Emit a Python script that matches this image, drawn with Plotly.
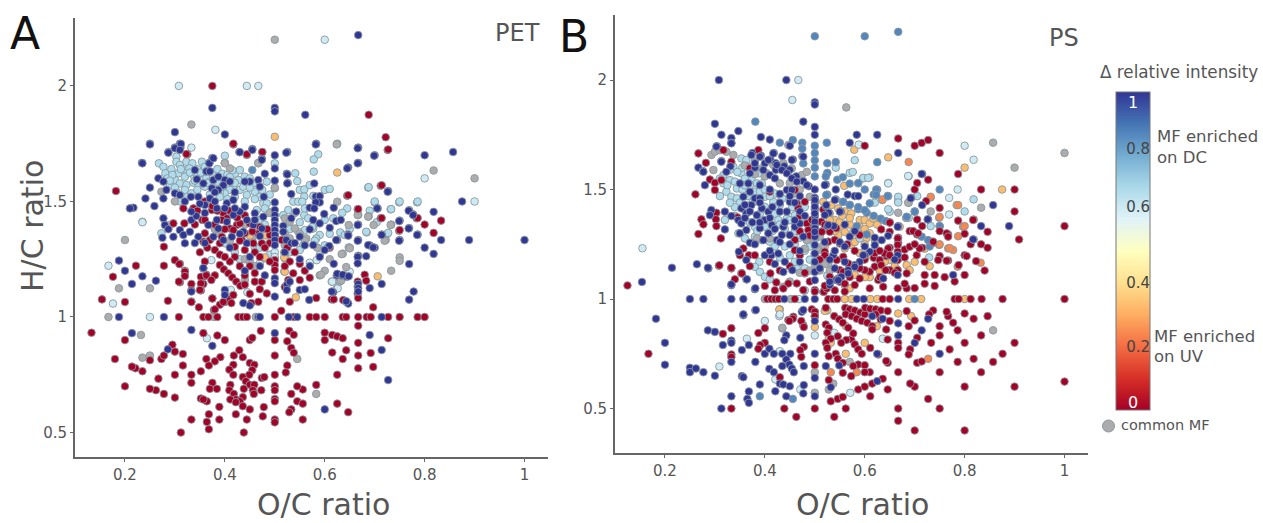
import plotly.graph_objects as go

# ---------- Panel A (PET): (O/C, H/C) ----------
A_NAVY = [(.667,2.22),(.375,1.905),(.5,1.905),(.5,1.89),(.561,1.875),(.30,1.80),(.40,1.79),(.25,1.75),(.30,1.733),(.31,1.75),(.311,1.733),(.287,1.714),(.234,1.667),(.375,1.688),(.369,1.667),(.429,1.714),(.455,1.727),(.474,1.685),(.5,1.70),(.5,1.643),(.5,1.59),(.525,1.714),(.524,1.62),(.526,1.58),(.583,1.75),(.667,1.733),(.667,1.667),(.647,1.647),(.70,1.70),(.80,1.70),(.857,1.714),(.875,1.5),(.889,1.333),(1,1.333),(.833,1.333),(.8,1.30),(.818,1.273),(.818,1.455),(.769,1.462),(.777,1.444),(.75,1.417),(.769,1.385),(.786,1.357),(.75,1.333),(.727,1.545),(.706,1.47),(.667,1.4),(.714,1.357),(.667,1.333),(.69,1.31),(.70,1.30),(.667,1.265),(.683,1.263),(.647,1.357),(.625,1.333),
(.214,.93),(.333,.944),(.375,.875),(.286,.86),(.5,.93),(.69,.922),(.714,.857),(.727,.727),(.6,.6),
(.188,1),(.278,1),(.467,1),(.47,1),(.528,1),(.545,1),(.714,1),
(.357,1.21),(.4,1.117),(.4,1.095),(.437,1.06),(.45,1.05),(.5,1.167),(.5,1.146),(.5,1.088),(.524,1.138),(.53,1.153),(.524,1.117),(.55,1.117),(.56,1.12),(.569,1.074),(.617,1.107),(.624,1.18),(.634,1.18),(.644,1.174),(.666,1.26),(.666,1.232),
(.25,1.747),(.3,1.73),(.312,1.749),(.31,1.723),(.287,1.711),(.235,1.665),(.369,1.665),(.377,1.687),(.43,1.713),(.455,1.723),(.474,1.68),(.267,1.6),(.277,1.586),(.25,1.56),(.241,1.513),(.259,1.48),(.217,1.473),(.21,1.47),(.283,1.55),(.277,1.513),(.3,1.535),(.31,1.528),(.32,1.5),(.332,1.52),(.34,1.636),(.363,1.63),(.344,1.596),(.357,1.578),(.377,1.593),(.387,1.607),(.4,1.593),(.41,1.586),(.397,1.57),(.387,1.55),(.374,1.557),(.347,1.52),(.36,1.485),(.37,1.513),(.384,1.47),(.404,1.492),(.417,1.506),(.44,1.477),(.45,1.586),(.467,1.593),(.44,1.586),(.47,1.564),(.478,1.52),(.5,1.496),(.5,1.463),(.5,1.441),(.5,1.42),(.5,1.398),(.5,1.376),(.5,1.355),(.5,1.333),(.5,1.311),
(.277,1.427),(.28,1.398),(.287,1.38),(.31,1.376),(.317,1.355),(.32,1.319),(.275,1.343),(.297,1.347),(.333,1.42),(.343,1.437),(.33,1.369),(.347,1.347),(.367,1.398),(.377,1.347),(.387,1.383),(.404,1.412),(.417,1.441),(.43,1.456),(.444,1.42),(.46,1.449),(.477,1.434),(.474,1.383),(.457,1.398),(.437,1.369),(.414,1.347),(.397,1.333),(.444,1.319),(.333,1.456),(.384,1.42),
(.582,1.747),(.666,1.73),(.523,1.711),(.699,1.698),(.666,1.665),(.645,1.643),(.525,1.617),(.525,1.578),(.579,1.578),(.533,1.532),(.726,1.542),(.582,1.521),(.59,1.523),(.59,1.496),(.582,1.496),(.57,1.473),(.579,1.47),(.599,1.446),(.618,1.473),(.705,1.47),(.623,1.415),(.632,1.42),(.577,1.42),(.59,1.405),(.61,1.386),(.543,1.456),(.533,1.427),(.57,1.379),(.55,1.348),(.749,1.415),(.768,1.46),(.777,1.441),(.768,1.383),(.714,1.355),(.749,1.33),(.785,1.355),(.666,1.398),(.623,1.333),(.647,1.352),(.666,1.33),(.687,1.311),(.697,1.301),(.609,1.307),(.577,1.311),(.517,1.394),(.517,1.369),(.523,1.333),(.533,1.319),
(.769,1.229),(.778,1.11),(.769,1.075),(.714,1.143),(.69,1.125),(.667,1.143),(.667,1.125),(.667,1.11),(.647,1.058),(.643,1.068),(.614,1.11),(.618,1.23),(.625,1.187),(.636,1.183),(.648,1.176),(.188,1.244),(.2,1.2),(.214,1.143),(.235,1.176),(.262,1.157),(.357,1.212),(.333,1.11),
(.36,1.45),(.38,1.5),(.4,1.47),(.42,1.47),(.46,1.42),(.47,1.35),(.43,1.36),(.41,1.3),(.45,1.26),(.47,1.22),(.48,1.18),(.44,1.2),(.36,1.32),(.34,1.32),(.52,1.28),(.55,1.25),(.57,1.22),(.59,1.26),(.6,1.29),(.54,1.32),(.56,1.31),(.42,1.54),(.35,1.49),(.37,1.63),(.38,1.54),(.48,1.62)]
A_RED = [(.133,.932),(.2,.9),(.154,1.076),(.176,1.174),(.222,1.222),(.2,1.065),(.286,1.07),(.278,1.222),(.31,1.23),(.32,1.2),(.32,1.18),(.31,1.15),(.333,1.143),(.333,1.115),(.333,1.067),(.348,1.042),(.352,1.115),(.357,1.174),(.352,1.174),(.363,1.183),(.357,1.143),(.375,1.08),(.378,1.03),(.39,1.053),(.4,1.065),(.408,1.078),
(.308,1),(.357,1),(.367,1),(.385,1),(.427,1),(.436,1),(.444,1),(.5,1),(.538,1),(.57,1),(.583,1),(.6,1),(.636,1),(.643,1),(.667,1),(.684,1),(.692,1),(.727,1),(.75,1),(.786,1),(.8,1),
(.513,1.027),(.472,.94),(.45,.9),(.455,.91),(.4,.9),(.385,.92),(.357,.93),(.5,.9),(.525,.895),(.529,.94),(.538,.923),(.533,.866),(.538,.845),(.6,.932),(.6,.9),(.615,.922),(.625,.916),(.636,.908),(.667,.962),(.667,.888),(.727,.908),(.692,.844),(.643,.856),(.615,.846),(.636,.818),(.667,.833),(.667,.778),(.697,.784),(.625,.75),(.583,.706),(.556,.686),(.545,.7),(.533,.667),(.545,.635),(.556,.625),(.625,.625),(.647,.588),(.556,.556),(.533,.6),(.529,.588),(.5,.556),(.5,.544),(.5,.645),(.5,.635),(.5,.7),(.5,.683),(.5,.75),(.5,.833),(.525,.79),(.522,.76),
(.429,.856),(.418,.833),(.436,.826),(.391,.826),(.38,.808),(.363,.818),(.368,.79),(.417,.793),(.409,.772),(.417,.75),(.45,.801),(.459,.793),(.455,.77),(.449,.75),(.436,.74),(.442,.722),(.45,.707),(.459,.707),(.456,.683),(.458,.667),(.473,.683),(.474,.736),(.479,.74),(.438,.689),(.411,.706),(.409,.683),(.418,.667),(.422,.643),(.411,.643),(.436,.653),(.43,.635),(.422,.631),(.436,.614),(.45,.6),(.478,.61),(.422,.579),(.476,.57),(.444,.556),(.438,.5),(.312,.5),(.333,.556),(.364,.546),(.368,.514),(.389,.556),(.368,.579),(.389,.611),(.364,.635),(.352,.647),(.357,.643),(.375,.715),(.37,.689),(.384,.689),(.333,.715),(.333,.75),(.352,.765),(.3,.75),(.267,.733),(.3,.651),(.278,.667),(.262,.683),(.25,.689),(.2,.7),(.235,.765),(.221,.778),(.214,.785),(.18,.818),(.25,.813),(.273,.818),(.278,.833),(.295,.88),(.3,.85),(.316,.84),(.316,.79),
(.3,1.246),(.309,1.229),(.32,1.196),(.32,1.177),(.308,1.153),(.352,1.145),(.35,1.117),(.363,1.18),(.38,1.18),(.373,1.16),(.375,1.08),(.333,1.065),(.38,1.033),(.397,1.065),(.417,1.095),(.413,1.06),(.39,1.225),(.398,1.206),(.407,1.189),(.415,1.171),(.423,1.153),(.431,1.135),(.46,1.153),(.474,1.153),(.484,1.102),(.467,1.066),(.453,1.06),(.5,1.246),(.5,1.225),(.5,1.203),(.527,1.16),(.537,1.189),(.53,1.066),(.61,1.3),(.637,1.073),(.644,1.066),(.614,1.076),(.666,1.153),(.666,1.131),(.666,1.102),
(.325,1.704),(.417,1.747),(.444,1.701),(.475,1.713),(.317,1.47),(.36,1.5),(.337,1.47),(.297,1.405),(.319,1.405),(.278,1.304),(.355,1.42),(.374,1.463),(.397,1.449),(.404,1.427),(.394,1.42),(.41,1.383),(.424,1.398),(.417,1.376),(.434,1.333),(.43,1.405),(.45,1.405),(.467,1.362),(.49,1.355),(.474,1.319),(.457,1.319),(.36,1.362),(.37,1.333),(.394,1.347),(.42,1.304),(.39,1.319),(.357,1.326),(.44,1.362),
(.726,1.723),(.645,1.525),(.712,1.568),(.666,1.466),(.712,1.427),(.749,1.373),(.784,1.427),(.607,1.301),(.5,1.355),(.514,1.333),
(.667,1.082),(.68,1.183),(.683,1.157),(.697,1.042),(.618,1.076),(.583,1.082),
(.375,2),(.688,1.875),(.722,1.778),(.727,1.725),(.417,1.75),(.444,1.704),(.475,1.714),(.323,1.705),(.182,1.545),(.647,1.527),(.667,1.467),(.714,1.57),(.714,1.428),(.786,1.428),(.8,1.4),(.833,1.417),(.818,1.364),(.75,1.376),
(.375,1.48),(.385,1.46),(.41,1.46),(.425,1.43),(.44,1.44),(.455,1.37),(.47,1.39),(.485,1.38),(.49,1.32),(.48,1.3),(.46,1.28),(.44,1.29),(.42,1.26),(.41,1.24),(.43,1.22),(.45,1.22),(.47,1.26),(.49,1.24),(.38,1.29),(.365,1.3),(.35,1.28),(.39,1.27),(.4,1.26),(.36,1.24),(.525,1.3),(.54,1.28),(.53,1.24),(.55,1.23),(.52,1.22),(.56,1.2),(.57,1.17),(.4,1.38),(.38,1.4),(.36,1.42),(.34,1.4),(.345,1.46),(.44,1.18),(.46,1.19),(.47,1.12),(.44,1.14),(.45,1.1),(.52,1.13),(.55,1.16),(.43,1.33)]
A_LIGHT = [(.268,1.665),(.277,1.65),(.281,1.622),(.303,1.694),(.303,1.672),(.31,1.658),(.323,1.672),(.335,1.665),(.317,1.636),(.329,1.643),(.307,1.622),(.32,1.607),(.337,1.614),(.354,1.672),(.355,1.593),(.363,1.6),(.3,1.593),(.31,1.578),(.323,1.571),(.337,1.581),(.347,1.578),(.36,1.564),(.29,1.571),(.303,1.542),(.32,1.55),(.333,1.535),(.37,1.586),(.4,1.698),(.42,1.62),(.43,1.636),(.427,1.593),(.44,1.607),(.457,1.578),(.417,1.564),(.43,1.55),(.444,1.528),(.46,1.542),(.47,1.52),(.484,1.586),(.437,1.564),(.41,1.55),(.477,1.492),(.487,1.456),(.464,1.463),(.484,1.492),(.4,1.535),(.39,1.542),(.377,1.564),(.273,1.362),(.29,1.398),(.4,1.319),
(.587,1.704),(.578,1.682),(.5,1.665),(.578,1.629),(.545,1.588),(.541,1.622),(.55,1.55),(.559,1.552),(.559,1.521),(.537,1.499),(.547,1.499),(.555,1.499),(.57,1.571),(.6,1.55),(.61,1.554),(.577,1.524),(.687,1.56),(.7,1.496),(.749,1.496),(.785,1.496),(.732,1.466),(.69,1.46),(.645,1.47),(.635,1.451),(.704,1.41),(.684,1.366),(.631,1.366),(.64,1.355),(.725,1.359),(.617,1.427),(.527,1.463),(.517,1.441),(.559,1.441),(.567,1.427),(.56,1.376),(.577,1.383),(.59,1.355),(.583,1.34),(.547,1.369),(.529,1.326),(.557,1.311),
(.688,1.562),(.75,1.5),(.786,1.5),(.7,1.5),(.733,1.467),(.683,1.369),(.727,1.364),
(.285,1.6),(.293,1.64),(.295,1.615),(.29,1.59),(.312,1.64),(.33,1.625),(.345,1.64),(.345,1.61),(.34,1.59),(.352,1.625),(.36,1.65),(.365,1.58),(.375,1.625),(.385,1.64),(.395,1.62),(.405,1.615),(.415,1.635),(.385,1.585),(.395,1.565),(.41,1.605),(.42,1.58),(.45,1.56),(.45,1.6),(.46,1.51),(.475,1.55),(.49,1.53),(.48,1.47),(.44,1.5),(.42,1.52),(.405,1.51),(.39,1.52),(.37,1.53),(.345,1.55),(.3,1.56),(.325,1.52),(.31,1.5),(.47,1.42),(.48,1.4),(.46,1.3),(.42,1.28),(.43,1.25),(.54,1.45),(.55,1.41),(.53,1.38),(.56,1.47),(.575,1.39),(.6,1.42),(.61,1.36),(.58,1.33),(.55,1.29),(.53,1.28),(.6,1.31),(.65,1.38),(.47,1.3),(.49,1.27)]
A_PALE = [(.308,2),(.444,2),(.467,2),(.6,2.2),(.381,1.81),(.333,1.733),(.235,1.412),(.235,1.41),(.9,1.5),(.8,1.6),(.25,1),(.364,.908),(.373,1.246),(.412,1.117),(.445,1.107),(.47,1.232),(.5,1.28),(.5,1.26),(.624,1.124),(.614,1.153),(.57,1.235),(.584,1.246),(.59,1.268),(.65,1.196),(.615,1.153),(.626,1.124),(.167,1.222),(.176,1.058)]
A_GREY = [(.5,2.2),(.333,1.833),(.625,1.75),(.4,1.667),(.467,1.667),(.818,1.634),(.9,1.6),(.667,1.442),(.688,1.436),(.733,1.4),(.722,1.333),(.75,1.258),(.65,1.3),(.636,1.274),(.2,1.333),(.273,1.542),(.3,1.5),(.41,1.643),(.467,1.665),(.4,1.665),(.5,1.557),
(.624,1.747),(.5,1.56),(.648,1.398),(.625,1.499),(.666,1.441),(.687,1.434),(.698,1.398),(.732,1.398),(.72,1.33),(.648,1.301),(.52,1.427),(.53,1.412),(.54,1.383),(.52,1.362),(.563,1.34),
(.44,1.25),(.45,1.24),(.6,1.2),(.634,1.272),(.63,1.153),(.65,1.297),(.59,1.18),(.733,1.2),(.75,1.243),(.633,1.158),(.593,1.183),(.643,1.216),(.188,1.124),(.25,1.124),
(.167,1),(.462,1),(.378,1),(.232,.922),(.235,.824),(.25,.833),(.545,.818),(.583,.667),
(.41,1.33),(.39,1.36),(.455,1.34),(.44,1.4),(.52,1.31),(.53,1.34),(.55,1.36),(.56,1.33),(.49,1.45),(.38,1.38),(.46,1.22),(.44,1.16),(.585,1.3),(.61,1.25)]
A_ORANGE = [(.5,1.78),(.625,1.625),(.706,1.176),(.519,1.197),(.52,1.196),(.52,1.275),(.52,1.254),(.48,1.254),(.482,1.311),(.542,1.085),(.45,1.353),(.482,1.353),(.48,1.258),(.519,1.28),(.519,1.258)]
A_STEEL = [(.455,1.636)]

# ---------- Panel B (PS) ----------
B_NAVY = [(.308,2),(.443,2),(.5,1.898),(.5,1.888),(.3,1.8),(.477,1.81),(.347,1.767),(.313,1.75),(.333,1.735),(.333,1.713),(.304,1.698),(.392,1.74),(.41,1.728),(.45,1.7),(.5,1.786),(.5,1.75),(.584,1.75),(.625,1.75),(.57,1.714),(.667,1.667),(.693,1.462),(.715,1.571),(.857,1.429),(.889,1.333),(.833,1.333),(.818,1.272),(.715,1.429),(.727,1.363),(.667,1.333),(.267,1.6),(.276,1.584),(.28,1.52),(.313,1.63),(.331,1.606),(.375,1.667),(.392,1.655),(.418,1.667),(.435,1.652),(.456,1.637),(.411,1.637),(.4,1.62),(.422,1.62),(.439,1.606),(.38,1.6),(.422,1.59),(.45,1.59),(.463,1.56),(.477,1.538),(.488,1.515),(.5,1.5),(.5,1.462),(.5,1.44),(.5,1.41),(.5,1.378),(.5,1.333),(.5,1.302),(.522,1.523),(.542,1.5),(.566,1.477),(.58,1.47),(.587,1.47),(.522,1.424),(.528,1.394),(.552,1.4),(.525,1.333),(.538,1.333),
(.303,1.696),(.333,1.711),(.277,1.581),(.313,1.627),(.323,1.581),(.293,1.406),(.29,1.383),(.32,1.399),(.333,1.379),(.32,1.318),(.347,1.361),(.363,1.315),(.353,1.345),(.373,1.658),(.39,1.65),(.407,1.635),(.417,1.665),(.454,1.635),(.477,1.65),(.38,1.62),(.424,1.612),(.397,1.589),(.434,1.589),(.444,1.574),(.454,1.551),(.464,1.536),(.484,1.52),(.41,1.566),(.42,1.551),(.37,1.574),(.35,1.528),(.367,1.528),(.357,1.467),(.353,1.414),(.363,1.391),(.38,1.46),(.39,1.46),(.373,1.429),(.384,1.383),(.394,1.414),(.4,1.361),(.414,1.338),(.424,1.269),(.407,1.3),(.39,1.323),(.397,1.269),(.407,1.399),(.43,1.399),(.444,1.498),(.454,1.498),(.45,1.444),(.444,1.399),(.437,1.33),(.46,1.33),(.434,1.292),(.45,1.292),(.47,1.345),(.477,1.285),(.5,1.452),(.5,1.421),(.5,1.391),(.5,1.353),(.5,1.323),(.5,1.285),(.5,1.247),(.52,1.52),
(.666,1.33),(.647,1.289),(.634,1.269),(.62,1.246),(.61,1.216),(.6,1.2),(.59,1.17),(.58,1.155),(.567,1.132),(.553,1.102),(.543,1.087),(.53,1.064),(.54,1.452),(.55,1.399),(.523,1.429),(.52,1.384),(.527,1.338),(.57,1.285),(.537,1.2),(.5,1.307),(.637,1.094),(.666,1.2),(.666,1.11),(.777,1.11),(.817,1.272),(.726,1.364),(.692,1.46),(.714,1.571),
(.287,1.14),(.333,1.063),(.363,1.09),(.38,1.045),(.348,1.216),(.363,1.178),(.357,.926),(.381,.949),(.474,.942),(.5,1.086),(.5,1.124),(.5,1.17),(.5,1.208),(.437,1.124),(.455,1.132),(.413,1.2),(.427,1.208),(.4,1.2),(.37,1.257),(.547,1.086),(.567,1.117),(.58,1.147),(.597,1.2),(.53,1.079),
(.25,1),(.277,1),(.333,1),(.357,1),(.439,1),(.48,1),(.5,1),(.584,1),(.598,1),(.667,1),
(.154,1.078),(.214,1.143),(.264,1.159),(.286,1.143),(.182,.91),(.2,.8),(.2,.7),(.25,.686),(.25,.666),(.262,.683),(.277,.666),(.286,.857),(.3,.85),(.3,.65),(.333,1.067),(.364,1.09),(.381,1.049),(.382,.95),(.357,.93),(.316,.79),(.333,.81),(.333,.8),(.354,.767),(.368,.79),(.333,.713),(.381,.713),(.4,.75),(.409,.773),(.418,.75),(.443,.834),(.439,.812),(.471,.823),(.435,.75),(.451,.75),(.443,.724),(.449,.701),(.454,.683),(.458,.666),(.435,.694),(.409,.681),(.418,.666),(.478,.694),(.5,.75),(.522,.694),(.549,.697),(.5,.64),(.354,.648),(.357,.643),(.39,.61),(.368,.578),(.333,.556),(.365,.544),(.368,.526),(.313,.5),(.421,.579),(.43,.614),(.437,.61),(.45,.602),(.443,.556),(.478,.607),(.477,.569),(.5,.556),(.532,.597),(.625,.625),(.625,.75),(.667,.834),(.7,.8),(.714,.857),(.75,.75),(.727,.91),(.667,.889),(.636,.91),(.615,.922),(.5,.9),(.477,.95),
(.43,1.44),(.415,1.42),(.39,1.44),(.37,1.4),(.36,1.37),(.375,1.35),(.39,1.35),(.41,1.37),(.42,1.32),(.44,1.35),(.46,1.36),(.47,1.4),(.48,1.38),(.45,1.47),(.47,1.47),(.46,1.44),(.43,1.48),(.41,1.5),(.39,1.52),(.37,1.49),(.36,1.43),(.35,1.3),(.38,1.25),(.41,1.22),(.43,1.26),(.45,1.25),(.47,1.22),(.44,1.17),(.47,1.17),(.42,1.16),(.56,1.34),(.58,1.31),(.55,1.26),(.56,1.24),(.52,1.26),(.54,1.22),(.53,1.18),(.51,1.14),(.54,1.14),(.56,1.17),(.6,1.24),(.62,1.28),(.66,1.18)]
B_RED = [(.667,1.733),(.7,1.7),(.714,1.713),(.727,1.726),(.75,1.667),(.787,1.571),(.727,1.545),(.705,1.53),(.7,1.5),(.833,1.5),(.9,1.5),(.9,1.4),(1,1.333),(.909,1.272),(.846,1.307),(.818,1.363),(.787,1.358),(.767,1.295),(.8,1.298),(.75,1.416),(.75,1.31),(.723,1.447),(.715,1.333),(.69,1.31),(.705,1.295),(.737,1.257),(.715,1.234),(.812,1.25),(.833,1.25),(.846,1.234),(.75,1.196),(.767,1.176),(.8,1.2),(.823,1.173),(.788,1.155),(.705,1.363),(.6,1.7),(.65,1.35),(.633,1.318),(.667,1.28),(.667,1.257),(.65,1.234),(.643,1.196),(.618,1.188),(.68,1.226),
(.65,1.349),(.65,1.307),(.666,1.277),(.666,1.247),(.666,1.216),(.666,1.178),(.666,1.132),(.666,1.049),(.647,1.231),(.64,1.208),(.63,1.178),(.62,1.148),(.61,1.125),(.6,1.132),(.59,1.094),(.58,1.064),(.61,1.049),(.65,1.132),(.627,1.087),(.637,1.056),(.53,1.102),(.517,1.033),(.55,1.132),(.697,1.31),(.707,1.3),(.737,1.262),(.69,1.239),(.704,1.2),(.71,1.231),(.684,1.117),(.684,1.049),(.764,1.175),(.804,1.196),(.72,1.11),(.764,1.3),(.767,1.285),(.817,1.361),(.747,1.178),
(.497,1.361),(.497,1.33),(.513,1.353),(.513,1.307),(.53,1.307),(.543,1.323),(.527,1.262),(.55,1.254),(.59,1.292),(.557,1.193),(.633,1.155),(.642,1.132),(.55,1.079),
(.267,1.665),(.282,1.622),(.317,1.68),(.333,1.627),(.37,1.597),(.29,1.546),(.3,1.531),(.313,1.543),(.3,1.498),(.261,1.478),(.273,1.364),(.277,1.341),(.303,1.394),(.302,1.364),(.303,1.333),(.267,1.297),(.312,1.277),(.345,1.373),(.46,1.498),(.41,1.49),(.464,1.437),(.467,1.414),(.48,1.444),(.484,1.345),(.494,1.361),(.487,1.315),(.514,1.307),(.517,1.409),(.387,1.68),(.357,1.231),
(.308,1.152),(.333,1.14),(.353,1.117),(.368,1.2),(.411,1.117),(.423,1.076),(.447,1.071),(.437,1.048),(.464,1.071),(.477,1.041),(.5,1.041),(.518,1.033),(.524,1.048),(.547,1.094),(.557,1.124),(.567,1.162),(.52,1.216),(.544,1.178),(.46,1.223),(.47,1.2),(.447,.904),(.457,.919),(.477,.88),(.5,.942),(.5,.922),
(.405,1),(.413,1),(.421,1),(.428,1),(.46,1),(.527,1),(.537,1),(.545,1),(.636,1),(.65,1),(.78,1),(.788,1),(.812,1),(.834,1),(.876,1),(1,1),
(.125,1.062),(.167,.75),(.333,1.143),(.354,1.117),(.309,1.154),(.316,.841),(.333,.867),(.387,.845),(.4,.867),(.4,.8),(.391,.79),(.387,.773),(.333,.747),(.333,.735),(.333,.5),(.439,.5),(.463,.462),(.5,.5),(.539,.462),(.562,.5),(.532,.533),(.546,.544),(.556,.553),(.587,.587),(.6,.6),(.615,.614),(.636,.636),(.611,.556),(.646,.587),(.667,.5),(.667,.444),(.7,.4),(.8,.4),(.75,.5),(.727,.544),(.7,.6),(.691,.614),(.8,.6),(.9,.6),(1,.623),(.75,.666),(.833,.666),(.667,.666),(.857,.713),(.786,.713),(.818,.727),(.876,.75),(.9,.8),(.8,.8),(.77,.77),(.75,.834),(.75,.876),(.786,.857),(.833,.834),(.777,.892),(.767,.922),(.764,.942),(.8,.934),(.818,.91),(.846,.922),(.705,.709),(.714,.715),(.691,.77),(.688,.747),(.733,.8),(.705,.823),(.688,.876),(.7,.902),(.684,.945),(.737,.948),(.729,.93),(.667,.8),(.667,.777),(.646,.815),(.646,.709),(.643,.717),(.627,.747),(.611,.777),(.573,.816),(.58,.793),(.587,.77),(.594,.75),(.587,.701),(.6,.698),(.61,.666),(.6,.666),(.577,.694),(.556,.663),(.573,.648),(.5,.698),(.528,.63),(.561,.96),(.57,.953),(.58,.948),(.591,.938),(.6,.93),(.562,.93),(.574,.922),(.584,.91),(.594,.9),(.605,.892),(.615,.876),(.539,.922),(.549,.907),(.556,.892),(.567,.869),(.577,.843),(.563,.813),(.546,.83),(.553,.8),(.522,.884),(.528,.869),(.525,.846),(.532,.819),(.522,.8),(.525,.777),(.528,.739),(.542,.75),(.546,.728),(.556,.709),(.601,.96),(.611,.956),(.622,.953),(.632,.948),(.646,.945),(.622,.93),(.632,.907),(.65,.9),(.643,.861),(.615,.861),(.456,.91),(.449,.9),(.473,.9),(.478,.872),(.494,.953),(.5,.942),(.5,.922),(.478,.782),(.471,.767),(.473,.736),(.43,.643),(.5,1.034),(.522,.96),(.56,1.034),
(.52,1.34),(.54,1.27),(.565,1.25),(.58,1.22),(.6,1.18),(.62,1.21),(.59,1.14),(.57,1.1),(.56,1.07),(.54,1.04),(.52,1.06),(.63,1.22),(.65,1.2),(.66,1.12),(.63,1.1),(.68,1.19),(.7,1.25),(.72,1.17),(.74,1.11),(.76,1.1),(.78,1.08),(.72,1.07),(.68,1.07),(.7,1.05),(.74,1.06),(.8,1.11),(.84,1.13),(.47,1.31),(.49,1.29),(.47,1.38),(.46,1.27),(.45,1.15),(.43,1.13),(.41,1.17),(.38,1.2),(.37,1.15),(.4,1.06),(.42,1.04),(.35,1.2),(.34,1.09),(.48,1.12),(.49,1.08),(.52,1.2),(.51,1.18)]
B_LIGHT = [(.317,1.566),(.33,1.543),(.34,1.536),(.353,1.574),(.373,1.551),(.384,1.528),(.394,1.528),(.407,1.498),(.42,1.482),(.43,1.475),(.323,1.49),(.333,1.467),(.344,1.46),(.344,1.505),(.38,1.49),(.4,1.467),(.417,1.444),(.43,1.429),(.4,1.421),(.407,1.361),(.427,1.361),(.444,1.368),(.46,1.383),(.47,1.406),(.32,1.361),(.347,1.3),(.36,1.277),(.38,1.285),(.394,1.269),(.41,1.262),(.353,1.642),(.363,1.635),(.337,1.604),(.37,1.604),(.39,1.574),(.317,1.528),
(.667,1.467),(.667,1.441),(.65,1.399),(.59,1.277),(.5,1.239),(.5,1.208),(.503,1.163),(.389,1.17),(.38,1.147),(.39,1.124),(.4,1.102),(.41,1.09),(.464,1.14),(.5,1.197),(.527,1.102),(.58,1.634),(.542,1.6),(.57,1.576),(.576,1.58),(.597,1.553),(.607,1.553),(.62,1.44),(.647,1.41),(.705,1.47),(.688,1.371),(.732,1.333),(.729,1.19),(.818,1.455),(.8,1.4),(.75,1.333),(.525,1.108),
(.36,1.55),(.37,1.52),(.355,1.5),(.365,1.47),(.375,1.44),(.39,1.49),(.4,1.5),(.41,1.47),(.42,1.42),(.41,1.4),(.39,1.39),(.4,1.33),(.415,1.31),(.43,1.34),(.44,1.32),(.45,1.36),(.46,1.31),(.47,1.28),(.48,1.36),(.48,1.42),(.47,1.45),(.455,1.42),(.435,1.46),(.42,1.39),(.35,1.44),(.34,1.42),(.33,1.44),(.31,1.47),(.34,1.38),(.37,1.35),(.38,1.33),(.385,1.31),(.42,1.24),(.44,1.24),(.46,1.25),(.48,1.22),(.49,1.24),(.45,1.2),(.43,1.19),(.5,1.27),(.49,1.18),(.48,1.14),(.46,1.17),(.355,1.6),(.345,1.58),(.33,1.59),(.36,1.52),(.325,1.52),(.31,1.55)]
B_PALE = [(.155,1.232),(.455,1.909),(.467,2),(.588,1.705),(.8,1.7),(.818,1.636),(.688,1.561),(.786,1.5),(.769,1.462),(.769,1.386),(.647,1.53),(.687,1.562),(.647,1.528),(.587,1.528),(.597,1.551),(.61,1.555),(.667,1.462),(.667,1.444),(.468,1),(.479,1.038),(.429,.922),(.4,.9),(.309,.692),(.364,.819),(.43,.93),(.43,.762),(.421,.633),(.471,.587),(.571,.572),(.636,.819),(.539,.846),(.5,.834),(.48,1.04)]
B_STEEL = [(.5,2.2),(.6,2.2),(.667,2.22),(.381,1.81),(.43,1.714),(.456,1.726),(.475,1.714),(.475,1.687),(.475,1.652),(.477,1.619),(.5,1.7),(.5,1.667),(.5,1.634),(.5,1.6),(.5,1.56),(.524,1.714),(.525,1.62),(.542,1.625),(.525,1.576),(.522,1.56),(.545,1.545),(.556,1.556),(.57,1.527),(.587,1.53),(.6,1.5),(.525,1.477),(.542,1.455),(.556,1.444),(.57,1.43),(.587,1.41),(.604,1.394),(.618,1.38),(.632,1.367),(.642,1.356),(.625,1.625),(.75,1.5),(.7,1.4),(.625,1.5),(.618,1.477),(.646,1.47),(.584,1.333),(.604,1.295),(.73,1.24),(.75,1.333),(.7,1),(.39,.556),(.456,.544),
(.684,1.376),(.7,1.399),(.727,1.269),(.714,1.285),(.587,1.42),(.6,1.406),(.57,1.429),(.557,1.444),(.523,1.475),(.61,1.437),(.623,1.5),(.623,1.475)]
B_GREY = [(.563,1.875),(.857,1.714),(1,1.667),(.9,1.6),(.833,1.417),(.732,1.4),(.688,1.44),(.667,1.394),(.647,1.47),(.683,1.37),(.646,1.47),(.687,1.44),(.51,1.224),(.517,1.247),(.497,1.269),(.51,1.285),
(.293,1.658),(.3,1.673),(.31,1.68),(.323,1.673),(.337,1.658),(.297,1.589),(.394,1.597),(.404,1.574),(.417,1.612),(.43,1.528),(.437,1.62),(.454,1.597),(.474,1.566),(.484,1.581),(.46,1.482),(.49,1.467),(.384,1.277),(.41,1.277),(.484,1.269),(.447,1.703),
(.437,1.056),(.527,1.163),(.48,1.117),(.504,1.23),(.514,1.178),(.435,.866),(.4,1),(.452,1),(.435,.869),(.5,.666),(.5,.572),(.528,.587),(.537,.614),(.57,.713),(.857,.857),
(.46,1.55),(.45,1.53),(.47,1.5),(.38,1.63),(.36,1.61),(.5,1.16),(.51,1.13),(.52,1.16),(.49,1.13),(.47,1.12),(.45,1.08),(.48,1.23),(.53,1.13),(.38,1.57),(.4,1.56)]
B_ORANGE = [(.559,1.517),(.517,1.444),(.533,1.429),(.547,1.414),(.56,1.4),(.573,1.391),(.59,1.361),(.6,1.361),(.61,1.345),(.617,1.368),(.633,1.361),(.53,1.391),(.54,1.361),(.553,1.33),(.56,1.307),(.577,1.307),(.587,1.292),(.603,1.277),(.547,1.292),(.573,1.247),(.56,1.231),(.633,1.178),(.647,1.208),(.65,1.178),(.684,1.155),(.69,1.132),(.57,1.049),(.56,1.064),(.732,1.464),(.784,1.429),
(.579,1.682),(.647,1.647),(.8,1.6),(.875,1.5),(.56,1),(.574,1),(.611,1),(.625,1),(.689,1),(.713,1),(.8,1),(.43,.953),(.525,.948),(.5,.872),(.528,.823),(.532,.8),(.562,.75),(.562,.877),(.6,.8),(.624,.876),(.667,.934),(.693,.922),(.429,.952),(.52,.946),
(.53,1.36),(.55,1.35),(.57,1.34),(.59,1.33),(.57,1.37),(.555,1.38),(.6,1.32),(.61,1.3),(.625,1.34),(.62,1.27),(.58,1.26),(.6,1.25),(.54,1.31),(.515,1.31),(.52,1.24),(.59,1.21),(.61,1.2),(.64,1.17),(.66,1.15),(.63,1.13),(.61,1.1),(.6,1.1),(.58,1.11),(.72,1.23),(.73,1.15),(.7,1.17),(.67,1.33)]
B_DEEP = [(.635,1.452),(.749,1.371),(.749,1.247),(.767,1.231),(.777,1.224),(.786,1.148),(.797,1.33),(.688,1.626),(.732,1.467),(.787,1.429),(.75,1.375),(.8,1.333),(.787,1.287),(.75,1.25),(.77,1.233),(.832,1.166),(.636,1.455),(.584,.666),(.532,.666),(.727,.727)]

# colour values on the 0-1 scale
NAVY_V, STEEL_V, LIGHT_V, PALE_V, ORANGE_V, DEEP_V, RED_V = 1.0, 0.87, 0.69, 0.63, 0.33, 0.24, 0.0
XTICKS = [0.2, 0.4, 0.6, 0.8, 1]
YTICKS = [0.5, 1, 1.5, 2]
COMMON = "#acacac"
EDGE = "#8a979f"
SCALE = [[0, "#a50026"], [.1, "#d73027"], [.2, "#f46d43"], [.3, "#fdae61"], [.4, "#fee090"], [.5, "#ffffbf"],
         [.6, "#e0f3f8"], [.7, "#abd9e9"], [.8, "#74add1"], [.9, "#4575b4"], [1, "#313695"]]
W, H = 1263, 523
FONT = "DejaVu Sans"
TXT = "#555555"
SIZE = 7.6


def add_series(fig, pts, val, xa, ya):
    xs, ys = zip(*pts)
    fig.add_trace(go.Scatter(
        x=xs, y=ys, mode="markers", xaxis=xa, yaxis=ya, showlegend=False, hoverinfo="x+y",
        marker=dict(size=SIZE, color=[val] * len(pts), coloraxis="coloraxis", line=dict(color=EDGE, width=0.9))))


def add_grey(fig, pts, xa, ya):
    xs, ys = zip(*pts)
    fig.add_trace(go.Scatter(
        x=xs, y=ys, mode="markers", xaxis=xa, yaxis=ya, showlegend=False, hoverinfo="x+y",
        marker=dict(size=SIZE, color=COMMON, line=dict(color=EDGE, width=0.9))))


fig = go.Figure()
add_series(fig, A_LIGHT, LIGHT_V, "x", "y")
add_series(fig, A_PALE, PALE_V, "x", "y")
add_grey(fig, A_GREY, "x", "y")
add_series(fig, A_ORANGE, ORANGE_V, "x", "y")
add_series(fig, A_STEEL, STEEL_V, "x", "y")
add_series(fig, A_RED, RED_V, "x", "y")
add_series(fig, A_NAVY, NAVY_V, "x", "y")

add_series(fig, B_ORANGE, ORANGE_V, "x2", "y2")
add_series(fig, B_DEEP, DEEP_V, "x2", "y2")
add_series(fig, B_PALE, PALE_V, "x2", "y2")
add_series(fig, B_LIGHT, LIGHT_V, "x2", "y2")
add_grey(fig, B_GREY, "x2", "y2")
add_series(fig, B_STEEL, STEEL_V, "x2", "y2")
add_series(fig, B_RED, RED_V, "x2", "y2")
add_series(fig, B_NAVY, NAVY_V, "x2", "y2")


def xaxis(l, r):
    return dict(domain=[l / W, r / W], range=[0.1, 1.047], tickvals=XTICKS, ticktext=[f"{v:g}" for v in XTICKS],
                showgrid=False, zeroline=False, showline=True, linecolor="#666666", linewidth=2,
                ticks="outside", ticklen=3, tickwidth=1, tickcolor="#666666",
                tickfont=dict(size=15, color=TXT, family=FONT))


def yaxis(t, b, rng, anchor):
    return dict(domain=[(H - b) / H, (H - t) / H], range=rng, tickvals=YTICKS, ticktext=[f"{v:g}" for v in YTICKS],
                showgrid=False, zeroline=False, showline=True, linecolor="#666666", linewidth=2, anchor=anchor,
                ticks="outside", ticklen=3, tickwidth=1, tickcolor="#666666",
                tickfont=dict(size=15, color=TXT, family=FONT))


def note(text, px, py, size, color=TXT, anchor="left", angle=0):
    return dict(text=text, xref="paper", yref="paper", x=px / W, y=(H - py) / H, xanchor=anchor, yanchor="middle",
                showarrow=False, font=dict(size=size, color=color, family=FONT), align="left", textangle=angle,
                borderpad=0)


fig.update_layout(
    width=W, height=H, autosize=False, margin=dict(l=0, r=0, t=0, b=0),
    paper_bgcolor="white", plot_bgcolor="white", font=dict(family=FONT),
    xaxis=xaxis(75, 548), yaxis=yaxis(18, 457, [0.394, 2.294], "x"),
    xaxis2=dict(xaxis(615, 1088), anchor="y2"), yaxis2=yaxis(15, 453, [0.297, 2.297], "x2"),
    coloraxis=dict(cmin=0, cmax=1, colorscale=SCALE, colorbar=dict(
        x=1116 / W, xanchor="left", y=(H - 92) / H, yanchor="top", lenmode="pixels", len=318,
        thicknessmode="pixels", thickness=34, xpad=0, ypad=0, outlinecolor="#777777", outlinewidth=1,
        ticklabelposition="inside", ticks="",
        tickvals=[0.2, 0.4, 0.64, 0.82],
        ticktext=["0.2", "0.4", "0.6", "0.8"],
        tickfont=dict(size=15, color="#444444", family=FONT))),
    annotations=[
        note("A", 9, 33, 44, "#111111"), note("B", 558, 36, 44, "#111111"),
        note("PET", 541, 33, 24, anchor="right"), note("PS", 1080, 38, 24, anchor="right"),
        note("H/C ratio", 32, 226, 30, anchor="center", angle=-90),
        note("O/C ratio", 323, 504, 30, anchor="center"),
        note("O/C ratio", 862, 504, 30, anchor="center"),
        note("Δ relative intensity", 1099, 72, 16.8),
        note("MF enriched", 1156, 136, 16.5), note("on DC", 1156, 157, 16.5),
        note("MF enriched", 1153, 336, 16.5), note("on UV", 1153, 356, 16.5),
        note("common MF", 1120, 425, 14.5),
        note("1", 1133, 102, 16, "#ffffff", anchor="center"), note("0", 1133, 402, 16, "#ffffff", anchor="center"),
    ],
    shapes=[dict(type="circle", xref="paper", yref="paper", x0=1102.5 / W, x1=1114.5 / W,
                 y0=(H - 432) / H, y1=(H - 420) / H, fillcolor=COMMON, line=dict(color=EDGE, width=1))],
)
fig.write_html("out.html", config={"displayModeBar": False}, post_script="document.body.style.margin='0';")
